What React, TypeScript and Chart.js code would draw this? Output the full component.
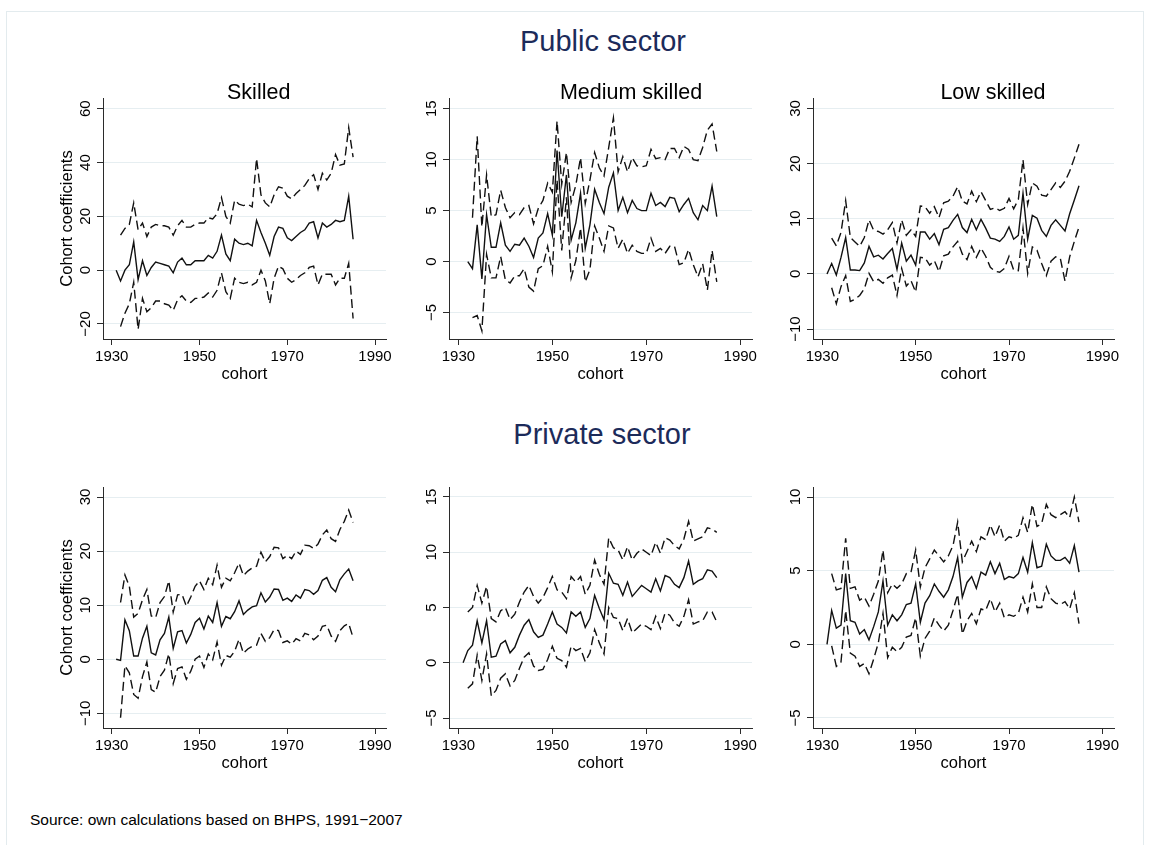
import React, { useEffect, useRef } from "react";
import { Chart, registerables } from "chart.js";

Chart.register(...registerables);

const FONT = '"Liberation Sans", Arial, Helvetica, sans-serif';
const AXIS = "#2b2b2b";
const GRID = "#e6eef1";
const LINE = "#111111";
const NAVY = "#1c2b5a";

// Birth cohorts (x categories)
const cohorts = [
  1931, 1932, 1933, 1934, 1935, 1936, 1937, 1938, 1939, 1940,
  1941, 1942, 1943, 1944, 1945, 1946, 1947, 1948, 1949, 1950,
  1951, 1952, 1953, 1954, 1955, 1956, 1957, 1958, 1959, 1960,
  1961, 1962, 1963, 1964, 1965, 1966, 1967, 1968, 1969, 1970,
  1971, 1972, 1973, 1974, 1975, 1976, 1977, 1978, 1979, 1980,
  1981, 1982, 1983, 1984, 1985,
];
const xTickValues = [1930, 1950, 1970, 1990];

// ---- Public sector, skilled
const pubSkilledEst = [0, -4, 0, 2, 10.5, -3.5, 3.5, -2, 1, 3, 2.5, 2, 1.5, -1, 3, 4.5, 2, 2, 3.5, 3.5, 3.5, 5.5, 4.5, 7, 13, 6, 3.5, 11.5, 10, 9.5, 10, 9, 18.5, 14, 10, 5.5, 12.5, 16, 15.5, 12, 11, 12.5, 14, 15, 17.5, 18, 12, 17.5, 16, 17, 18.5, 18, 18.5, 27.5, 11.5];
const pubSkilledHi = [null, 13, 15.5, 17, 25, 15, 17.5, 12.5, 16, 17, 16.5, 16.5, 16, 13, 16.5, 18.5, 16, 16, 17, 17.5, 17.5, 19.5, 19, 21, 27, 20, 17.5, 26, 24.5, 24, 24.5, 23.5, 41.5, 28, 25, 23.5, 28, 31, 30.5, 27.5, 26.5, 28.5, 30, 31.5, 34, 35.5, 30, 36, 33.5, 36, 43, 39, 39.5, 53, 42];
const pubSkilledLo = [null, -21, -16, -12.5, -4.5, -22, -10.5, -15.5, -14, -11.5, -11.5, -12.5, -13, -15, -11, -9.5, -11.5, -12, -10.5, -10.5, -10, -8.5, -10, -7.5, -1, -8, -10.5, -3, -4.5, -5, -4.5, -5.5, -4.5, 0, -4, -12.5, -3, 1.5, 0.5, -3, -4.5, -3.5, -2, -1, 1, 1.5, -5.5, -1.5, -1.5, -1.5, -5.5, -3, -3, 2.5, -18];

// ---- Public sector, medium skilled
const pubMediumEst = [null, 0, -0.7, 3.6, -1.7, 4.6, 1.4, 1.4, 3.8, 1.6, 1.0, 1.7, 1.6, 2.3, 1.5, 0.4, 2.3, 2.8, 4.7, 2.6, 10.9, 4.4, 8.5, 2.1, 3.8, 6.7, 1.3, 3.6, 7.1, 5.8, 4.7, 7.3, 8.7, 5.0, 6.3, 4.8, 6.0, 5.2, 5.0, 5.0, 6.7, 5.5, 5.8, 5.4, 6.3, 6.2, 4.9, 5.6, 6.2, 4.8, 4.1, 5.5, 5.0, 7.4, 4.4];
const pubMediumHi = [null, null, 4.3, 12.3, 3.4, 8.5, 4.4, 4.6, 7.0, 5.3, 4.3, 4.8, 4.6, 5.3, 5.5, 3.7, 5.2, 6.0, 7.7, 6.8, 13.8, 7.6, 10.7, 5.8, 7.5, 10.2, 5.7, 8.0, 10.7, 9.2, 8.4, 11.2, 14.1, 8.8, 10.3, 8.8, 10.2, 9.4, 9.3, 9.4, 11.0, 10.1, 10.2, 10.0, 11.1, 11.1, 10.2, 11.3, 11.0, 10.0, 9.9, 11.2, 12.9, 13.5, 10.8];
const pubMediumLo = [null, null, -5.5, -5.3, -6.8, 0.7, -1.6, -1.6, 0.5, -1.8, -2.1, -1.4, -1.4, -0.7, -2.5, -2.9, -0.7, -0.4, 1.5, -1.0, 8.0, 1.1, 6.3, -1.6, 0.1, 3.3, -2.0, -0.8, 3.5, 2.3, 1.0, 3.5, 3.3, 1.3, 2.2, 0.8, 1.6, 1.0, 0.8, 0.8, 2.3, 1.0, 1.3, 0.8, 1.5, 1.5, -0.3, -0.1, 1.2, -0.3, -1.5, -0.2, -2.8, 1.1, -2.0];

// ---- Public sector, low skilled
const pubLowEst = [0, 1.9, -0.2, 3, 6.6, 0.7, 0.7, 0.6, 2, 5, 3.1, 3.4, 2.7, 3.7, 4.6, 0.8, 5.6, 2.3, 3.4, 1.6, 7.6, 7.6, 6.3, 7.3, 5.3, 8.1, 8.4, 9.7, 10.8, 8.4, 7.5, 9.9, 8.0, 9.9, 8.3, 6.5, 6.3, 5.9, 6.8, 8.5, 6.3, 7, 14.6, 6.3, 10.6, 10.1, 7.9, 6.8, 8.8, 9.8, 8.8, 7.8, 10.9, 13.4, 16];
const pubLowHi = [null, 6.5, 5.1, 7.5, 13.3, 6.6, 5.8, 5.0, 6.6, 9.8, 7.9, 7.7, 7.2, 8.0, 9.3, 5.6, 9.8, 7.0, 8.0, 6.8, 12.3, 12.2, 11.0, 12.2, 10.2, 12.9, 13.2, 14.1, 15.8, 13.2, 12.7, 15.0, 13.1, 14.9, 13.3, 11.7, 12.0, 11.5, 11.9, 13.7, 11.8, 13.5, 20.7, 12.6, 16.5, 15.9, 14.3, 14.1, 15.3, 16.5, 15.7, 16.8, 18.6, 21.0, 23.5];
const pubLowLo = [null, -2.5, -5.4, -2.3, -0.3, -5.0, -4.6, -3.9, -2.7, 0.1, -1.4, -1.0, -1.7, -0.7, -0.2, -3.9, 1.0, -2.2, -1.2, -3.3, 3.0, 2.9, 1.6, 2.4, 0.4, 3.3, 3.6, 4.9, 5.9, 3.6, 2.6, 5.0, 3.0, 4.7, 3.2, 1.2, 0.5, 0.3, 1.0, 3.2, 0.7, 0.6, 8.3, 0.1, 4.9, 4.3, 1.9, -0.3, 2.3, 3.1, 2.8, -1.3, 3.1, 5.9, 8.5];

// ---- Private sector, skilled
const privSkilledEst = [0, -0.2, 7.3, 5.3, 0.6, 0.6, 3.9, 6.1, 1.2, 0.8, 3.6, 4.8, 7.8, 2.0, 5.1, 5.3, 3.0, 4.6, 6.8, 7.6, 5.6, 8.0, 6.8, 10.5, 6.1, 7.9, 7.5, 8.8, 10.8, 8.3, 9.1, 9.7, 9.9, 12.3, 10.6, 11.5, 13.0, 12.9, 10.9, 11.3, 10.7, 11.9, 11.3, 12.9, 12.7, 12.0, 12.7, 14.6, 15.1, 13.3, 12.5, 14.7, 15.8, 16.7, 14.5];
const privSkilledHi = [null, 10.5, 15.6, 13.5, 7.8, 8.5, 11.0, 12.9, 8.0, 7.7, 10.5, 11.6, 14.5, 8.7, 11.9, 12.0, 9.8, 11.5, 13.5, 14.5, 12.9, 15.0, 13.8, 17.4, 13.3, 15.0, 14.5, 16.0, 17.8, 15.5, 16.3, 16.9, 17.2, 19.8, 18.0, 19.0, 20.7, 20.6, 18.6, 19.2, 18.6, 20.0, 19.4, 21.1, 21.0, 20.5, 21.3, 23.0, 23.9, 22.3, 21.8, 24.0, 25.5, 27.6, 25.3];
const privSkilledLo = [null, -10.8, -1.2, -2.5, -6.5, -7.2, -3.2, -0.5, -5.6, -6.1, -3.2, -2.0, 1.0, -4.5, -1.7, -1.4, -3.7, -2.2, 0.0, 0.6, -1.5, 1.0, -0.1, 3.2, -1.1, 0.7, 0.4, 1.5, 3.7, 1.1, 1.9, 2.4, 2.6, 4.8, 3.3, 4.0, 5.5, 5.3, 3.1, 3.4, 2.8, 3.8, 3.4, 4.8, 4.5, 3.6, 4.3, 6.1, 6.3, 4.3, 3.3, 5.3, 6.2, 6.6, 4.0];

// ---- Private sector, medium skilled
const privMediumEst = [0, 1.1, 1.6, 3.8, 1.8, 3.8, 0.5, 0.6, 1.7, 2.0, 0.9, 1.4, 2.5, 3.4, 3.9, 2.8, 2.3, 2.5, 3.5, 4.6, 3.5, 3.2, 2.7, 4.6, 4.2, 4.6, 3.2, 4.0, 6.1, 4.9, 3.9, 8.1, 7.2, 7.1, 6.1, 7.3, 6.0, 6.5, 7.0, 6.7, 6.4, 7.6, 6.5, 7.9, 7.7, 7.1, 6.8, 7.7, 9.2, 7.1, 7.4, 7.6, 8.4, 8.3, 7.7];
const privMediumHi = [null, 4.6, 5.0, 7.0, 5.4, 6.9, 4.0, 3.7, 4.7, 5.0, 3.9, 4.4, 5.5, 6.4, 7.0, 6.0, 5.4, 5.9, 6.8, 7.8, 6.6, 6.4, 5.8, 7.8, 7.3, 7.8, 6.2, 7.0, 9.3, 8.0, 7.1, 11.3, 10.4, 10.2, 9.3, 10.5, 9.3, 9.9, 10.3, 10.0, 9.7, 10.9, 9.9, 11.3, 11.1, 10.6, 10.3, 11.2, 12.8, 11.0, 11.2, 11.4, 12.2, 12.1, 11.8];
const privMediumLo = [null, -2.3, -1.9, 0.7, -1.6, 0.8, -3.0, -2.5, -1.4, -1.0, -2.1, -1.6, -0.5, 0.5, 0.9, -0.3, -0.7, -0.6, 0.3, 1.5, 0.4, 0.2, -0.4, 1.5, 1.1, 1.3, 0.1, 0.9, 3.0, 1.8, 0.8, 5.0, 4.1, 4.0, 2.9, 4.0, 2.7, 3.1, 3.5, 3.3, 3.0, 4.2, 3.1, 4.5, 4.3, 3.6, 3.3, 4.2, 5.7, 3.5, 3.7, 3.8, 4.6, 4.6, 3.7];

// ---- Private sector, low skilled
const privLowEst = [0, 2.3, 1.1, 1.3, 4.8, 1.6, 1.5, 0.7, 1.0, 0.3, 1.2, 2.2, 4.3, 1.3, 2.0, 1.6, 2.0, 2.7, 2.8, 4.1, 1.5, 2.8, 3.3, 4.1, 3.6, 3.2, 3.7, 4.6, 5.9, 3.2, 4.2, 4.6, 3.8, 4.9, 4.7, 5.6, 4.8, 5.5, 4.4, 4.6, 4.5, 4.8, 5.9, 4.9, 6.9, 5.2, 5.3, 6.8, 6.0, 5.7, 5.7, 5.9, 5.5, 6.7, 4.9];
const privLowHi = [null, 4.8, 3.7, 3.8, 7.2, 3.8, 3.9, 3.0, 3.2, 2.6, 3.4, 4.3, 6.4, 3.5, 4.1, 3.8, 4.1, 4.8, 4.9, 6.4, 3.9, 5.2, 5.8, 6.4, 6.0, 5.6, 6.0, 6.7, 8.3, 5.6, 6.3, 7.0, 6.3, 7.3, 7.1, 8.1, 7.3, 8.1, 7.0, 7.3, 7.2, 7.4, 8.6, 7.6, 9.5, 8.0, 8.2, 9.5, 8.8, 8.6, 8.8, 9.0, 8.6, 10.0, 8.3];
const privLowLo = [null, -0.1, -1.5, -1.2, 2.3, -0.6, -0.8, -1.5, -1.3, -2.0, -1.0, 0.1, 2.1, -0.9, -0.2, -0.5, -0.2, 0.5, 0.6, 1.8, -0.8, 0.4, 0.9, 1.8, 1.3, 0.9, 1.3, 2.3, 3.4, 0.7, 1.6, 2.1, 1.4, 2.4, 2.3, 3.1, 2.2, 2.8, 1.8, 2.0, 1.9, 2.1, 3.2, 2.2, 4.1, 2.5, 2.5, 3.9, 3.1, 2.8, 2.7, 2.9, 2.4, 3.5, 1.4];

// y-axis ticks per panel
const yTicksPubSkilled = [-20, 0, 20, 40, 60];
const yTicksPubMedium = [-5, 0, 5, 10, 15];
const yTicksPubLow = [-10, 0, 10, 20, 30];
const yTicksPrivSkilled = [-10, 0, 10, 20, 30];
const yTicksPrivMedium = [-5, 0, 5, 10, 15];
const yTicksPrivLow = [-5, 0, 5, 10];

const fmt = (v: number) => (v < 0 ? "\u2212" + Math.abs(v) : String(v));

type Spec = {
  key: string;
  est: (number | null)[];
  hi: (number | null)[];
  lo: (number | null)[];
  yTicks: number[];
  yMin: number;
  yMax: number;
  yTitle?: string;
  box: { cx: number; cy: number; cw: number; ch: number };
  plot: { L: number; T: number; R: number; B: number };
};

const ROW1 = { cy: 62, ch: 338, T: 98, B: 339 };
const ROW2 = { cy: 452, ch: 338, T: 487, B: 728 };
const COL1 = { cx: 20, cw: 390, L: 103, R: 386 };
const COL2 = { cx: 412, cw: 355, L: 449, R: 752 };
const COL3 = { cx: 772, cw: 370, L: 813, R: 1114 };

const mk = (r: any, c: any) => ({
  box: { cx: c.cx, cy: r.cy, cw: c.cw, ch: r.ch },
  plot: { L: c.L, T: r.T, R: c.R, B: r.B },
});

const specs: Spec[] = [
  { key: "p1", est: pubSkilledEst, hi: pubSkilledHi, lo: pubSkilledLo, yTicks: yTicksPubSkilled, yMin: -25.6, yMax: 64, yTitle: "Cohort coefficients", ...mk(ROW1, COL1) },
  { key: "p2", est: pubMediumEst, hi: pubMediumHi, lo: pubMediumLo, yTicks: yTicksPubMedium, yMin: -7.6, yMax: 16.05, ...mk(ROW1, COL2) },
  { key: "p3", est: pubLowEst, hi: pubLowHi, lo: pubLowLo, yTicks: yTicksPubLow, yMin: -11.8, yMax: 31.9, ...mk(ROW1, COL3) },
  { key: "p4", est: privSkilledEst, hi: privSkilledHi, lo: privSkilledLo, yTicks: yTicksPrivSkilled, yMin: -12.7, yMax: 31.85, yTitle: "Cohort coefficients", ...mk(ROW2, COL1) },
  { key: "p5", est: privMediumEst, hi: privMediumHi, lo: privMediumLo, yTicks: yTicksPrivMedium, yMin: -5.9, yMax: 15.9, ...mk(ROW2, COL2) },
  { key: "p6", est: privLowEst, hi: privLowHi, lo: privLowLo, yTicks: yTicksPrivLow, yMin: -5.68, yMax: 10.68, ...mk(ROW2, COL3) },
];

const rotatedYTicks = {
  id: "rotatedYTicks",
  afterDraw(chart: any, _args: any, opts: any) {
    const y = chart.scales.y;
    const ctx = chart.ctx;
    ctx.save();
    ctx.font = `15px ${FONT}`;
    ctx.fillStyle = "#000";
    ctx.textAlign = "center";
    ctx.textBaseline = "alphabetic";
    (opts.values || []).forEach((v: number) => {
      const py = y.getPixelForValue(v);
      ctx.save();
      ctx.translate(chart.chartArea.left - 13, py);
      ctx.rotate(-Math.PI / 2);
      ctx.fillText(fmt(v), 0, 0);
      ctx.restore();
    });
    ctx.restore();
  },
};

function Panel({ spec }: { spec: Spec }) {
  const ref = useRef<HTMLCanvasElement>(null);
  useEffect(() => {
    const { box, plot } = spec;
    const toPts = (arr: (number | null)[]) => cohorts.map((c, i) => ({ x: c, y: arr[i] }));
    const titleFontSize = 16.5;
    const lh = titleFontSize * 1.2;
    const xTitleBottom = box.cy + box.ch - lh / 2 - (plot.B + 35.8);
    const yTitleTop = 67 - box.cx - lh / 2;
    const chart = new Chart(ref.current as HTMLCanvasElement, {
      type: "line",
      data: {
        datasets: [
          { data: toPts(spec.est) as any, borderColor: LINE, borderWidth: 1.4, pointRadius: 0, spanGaps: false, tension: 0 },
          { data: toPts(spec.hi) as any, borderColor: LINE, borderWidth: 1.4, borderDash: [9, 4.5], pointRadius: 0, spanGaps: false, tension: 0 },
          { data: toPts(spec.lo) as any, borderColor: LINE, borderWidth: 1.4, borderDash: [9, 4.5], pointRadius: 0, spanGaps: false, tension: 0 },
        ],
      },
      options: {
        responsive: false,
        animation: false,
        events: [],
        layout: { padding: { left: 0, top: plot.T - box.cy, right: box.cx + box.cw - plot.R, bottom: 0 } },
        plugins: {
          legend: { display: false },
          tooltip: { enabled: false },
          title: { display: false },
          rotatedYTicks: { values: spec.yTicks },
        } as any,
        scales: {
          x: {
            type: "linear",
            min: 1928,
            max: 1992.5,
            afterBuildTicks: (s: any) => {
              s.ticks = xTickValues.map((v) => ({ value: v }));
            },
            afterFit: (s: any) => {
              s.height = box.cy + box.ch - plot.B;
            },
            grid: { drawOnChartArea: false, drawTicks: true, tickLength: 6, tickColor: AXIS, tickWidth: 1 },
            border: { display: true, color: AXIS, width: 1 },
            ticks: {
              font: { family: FONT, size: 15 },
              color: "#000",
              padding: 3,
              maxRotation: 0,
              minRotation: 0,
              autoSkip: false,
              callback: (v: any) => String(v),
            },
            title: {
              display: true,
              text: "cohort",
              color: "#000",
              font: { family: FONT, size: titleFontSize },
              padding: { top: 0, bottom: xTitleBottom },
            },
          },
          y: {
            type: "linear",
            min: spec.yMin,
            max: spec.yMax,
            afterBuildTicks: (s: any) => {
              s.ticks = spec.yTicks.map((v) => ({ value: v }));
            },
            afterFit: (s: any) => {
              s.width = plot.L - box.cx;
            },
            grid: { color: GRID, lineWidth: 1, drawTicks: true, tickLength: 6, tickColor: AXIS, tickWidth: 1 },
            border: { display: true, color: AXIS, width: 1 },
            ticks: { display: false },
            title: {
              display: !!spec.yTitle,
              text: spec.yTitle || "",
              color: "#000",
              font: { family: FONT, size: titleFontSize },
              padding: { top: yTitleTop, bottom: 0 },
            },
          },
        },
      } as any,
      plugins: [rotatedYTicks as any],
    });
    return () => chart.destroy();
  }, []);
  const { box } = spec;
  return (
    <canvas
      ref={ref}
      width={box.cw}
      height={box.ch}
      style={{ position: "absolute", left: box.cx, top: box.cy, width: box.cw, height: box.ch }}
    />
  );
}

const textStyle = (size: number, color: string): React.CSSProperties => ({
  position: "absolute",
  fontFamily: FONT,
  fontSize: size,
  lineHeight: 1,
  color,
  whiteSpace: "nowrap",
});

const panelTitles = [
  { text: "Skilled", cx: 258.7 },
  { text: "Medium skilled", cx: 631 },
  { text: "Low skilled", cx: 993 },
];

export default function App() {
  return (
    <div style={{ position: "absolute", left: 0, top: 0, width: 1151, height: 845, background: "#fff", overflow: "hidden" }}>
      <div style={{ position: "absolute", left: 6, top: 11, width: 1138, height: 840, border: "1px solid #e3ebee", boxSizing: "border-box" }} />
      <div style={{ ...textStyle(29, NAVY), left: 403, width: 400, textAlign: "center", top: 27.2 }}>Public sector</div>
      <div style={{ ...textStyle(29, NAVY), left: 402, width: 400, textAlign: "center", top: 419.8 }}>Private sector</div>
      {panelTitles.map((t) => (
        <div key={t.text} style={{ ...textStyle(21.5, "#000"), left: t.cx - 150, width: 300, textAlign: "center", top: 82.3, zIndex: 2 }}>
          {t.text}
        </div>
      ))}
      {specs.map((s) => (
        <Panel key={s.key} spec={s} />
      ))}
      <div style={{ ...textStyle(15.5, "#000"), left: 30, top: 811.9 }}>Source: own calculations based on BHPS, 1991&#8722;2007</div>
    </div>
  );
}
